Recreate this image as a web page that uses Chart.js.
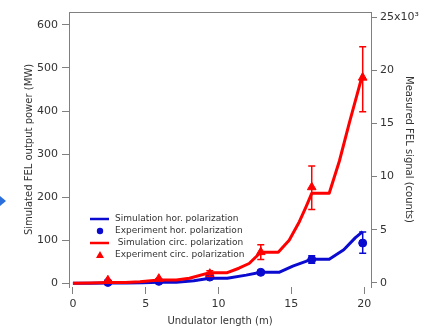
<!DOCTYPE html>
<html>
<head>
<meta charset="utf-8">
<script src="https://cdn.jsdelivr.net/npm/chart.js@4/dist/chart.umd.min.js"></script>
<style>
  html, body { margin: 0; padding: 0; background: #fff; }
  #wrap { position: relative; width: 428px; height: 327px; }
  #arrow { position: absolute; left: 0; top: 196px; width: 0; height: 0;
           border-top: 5px solid transparent; border-bottom: 5px solid transparent;
           border-left: 6px solid #2a6fdb; }
</style>
</head>
<body>
<div id="wrap">
  <canvas id="ctx" width="428" height="327"></canvas>
  <div id="arrow"></div>
</div>
<script>
// simulation curves (MW, left axis)
const simHorX = [0, 1.2, 2.4, 3.6, 4.8, 5.9, 7.1, 8.3, 9.4, 10.6, 11.9, 12.9, 14.15, 15.1, 16.0, 16.35, 17.6, 18.6, 19.4, 19.9];
const simHorY = [0, 0.3, 0.8, 0.8, 1.5, 2.5, 2.5, 6, 11.6, 11.6, 19, 25.5, 25.5, 40, 51, 56, 56, 78, 106, 120];
const simCircX = [0, 1.2, 2.4, 3.6, 4.6, 5.9, 7.1, 8.0, 9.4, 10.6, 11.4, 12.1, 12.9, 14.1, 14.85, 15.55, 16.0, 16.4, 17.6, 18.3, 19.0, 19.55, 19.9];
const simCircY = [0, 0.6, 1.8, 1.8, 3.8, 7.7, 7.7, 11.6, 24.7, 24.7, 35, 46, 72, 72, 100, 143, 177, 209, 209, 284, 375, 443, 486];

// measurements (counts, right axis)
const expX = [2.4, 5.9, 9.4, 12.9, 16.4, 19.9];
const expHorY = [50, 150, 550, 1000, 2200, 3750];
const expHorLo = [50, 150, 450, 850, 1850, 2800];
const expHorHi = [50, 150, 650, 1150, 2550, 4800];
const expCircY = [250, 400, 870, 2900, 9000, 19300];
const expCircLo = [250, 350, 600, 2200, 6900, 16100];
const expCircHi = [250, 450, 1150, 3600, 11000, 22200];

// ticks
const xTicks = [0, 5, 10, 15, 20];
const yTicks = [0, 100, 200, 300, 400, 500, 600];
const y2Ticks = [0, 5000, 10000, 15000, 20000, 25000];

const legendItems = [
  { text: "Simulation hor. polarization", color: "#0a0ad0", kind: "line" },
  { text: "Experiment hor. polarization", color: "#0a0ad0", kind: "circle" },
  { text: " Simulation circ. polarization", color: "#ff0000", kind: "line" },
  { text: "Experiment circ. polarization", color: "#ff0000", kind: "triangle" }
];

const BLUE = "#0a0ad0";
const RED = "#ff0000";
const AXIS = "#808080";
const TEXT = "#333333";

function toPts(xs, ys) {
  return xs.map((x, i) => ({ x: x, y: ys[i] }));
}

const errorBars = {
  id: "errorBars",
  afterDatasetsDraw(chart) {
    const c = chart.ctx;
    const ys = chart.scales.y2;
    const xs = chart.scales.x;
    const sets = [[expHorLo, expHorHi, BLUE], [expCircLo, expCircHi, RED]];
    c.save();
    c.lineWidth = 1.5;
    sets.forEach(s => {
      c.strokeStyle = s[2];
      expX.forEach((x, i) => {
        if (s[1][i] - s[0][i] < 200) return;
        const px = xs.getPixelForValue(x);
        const top = ys.getPixelForValue(s[1][i]);
        const bot = ys.getPixelForValue(s[0][i]);
        c.beginPath();
        c.moveTo(px, top); c.lineTo(px, bot);
        c.moveTo(px - 3.5, top); c.lineTo(px + 3.5, top);
        c.moveTo(px - 3.5, bot); c.lineTo(px + 3.5, bot);
        c.stroke();
      });
    });
    c.restore();
  }
};

const frameAndLegend = {
  id: "frameAndLegend",
  afterDraw(chart) {
    const c = chart.ctx;
    const a = chart.chartArea;
    c.save();
    // top frame line
    c.strokeStyle = AXIS;
    c.lineWidth = 1;
    c.beginPath();
    c.moveTo(a.left, a.top + 0.5);
    c.lineTo(a.right, a.top + 0.5);
    c.stroke();
    // legend
    c.font = "9px 'DejaVu Sans'";
    c.textBaseline = "middle";
    legendItems.forEach((it, i) => {
      const y = a.top + 207 + i * 12;
      const x = a.left + 21;
      c.fillStyle = it.color;
      c.strokeStyle = it.color;
      if (it.kind == "line") {
        c.lineWidth = 2.5;
        c.beginPath();
        c.moveTo(x, y); c.lineTo(x + 19, y);
        c.stroke();
      } else if (it.kind == "circle") {
        c.beginPath();
        c.arc(x + 10, y, 3.2, 0, Math.PI * 2);
        c.fill();
      } else {
        c.beginPath();
        c.moveTo(x + 10, y - 4); c.lineTo(x + 14, y + 3); c.lineTo(x + 6, y + 3);
        c.closePath();
        c.fill();
      }
      c.fillStyle = TEXT;
      c.fillText(it.text, x + 25, y);
    });
    c.restore();
  }
};

new Chart("ctx", {
  type: "line",
  data: {
    datasets: [
      { data: toPts(simHorX, simHorY), yAxisID: "y", borderColor: BLUE, borderWidth: 3,
        pointRadius: 0, tension: 0, borderJoinStyle: "round", order: 4 },
      { data: toPts(expX, expHorY), yAxisID: "y2", showLine: false, pointStyle: "circle",
        pointRadius: 4, backgroundColor: BLUE, borderColor: BLUE, order: 3 },
      { data: toPts(simCircX, simCircY), yAxisID: "y", borderColor: RED, borderWidth: 3,
        pointRadius: 0, tension: 0, borderJoinStyle: "round", order: 2 },
      { data: toPts(expX, expCircY), yAxisID: "y2", showLine: false, pointStyle: "triangle",
        pointRadius: 5, backgroundColor: RED, borderColor: RED, order: 1 }
    ]
  },
  options: {
    responsive: false,
    animation: false,
    clip: false,
    layout: { padding: { top: 12, left: 0, right: 0, bottom: 0 } },
    plugins: { legend: { display: false }, tooltip: { enabled: false } },
    scales: {
      x: {
        type: "linear", min: -0.27, max: 20.47,
        afterBuildTicks: axis => { axis.ticks = xTicks.map(v => ({ value: v })); },
        afterFit: axis => { axis.height = 40; },
        border: { display: false },
        grid: { drawOnChartArea: false, drawTicks: true, tickLength: 7, color: AXIS },
        ticks: { color: TEXT, font: { family: "DejaVu Sans", size: 11 }, padding: 4, maxRotation: 0 },
        title: { display: true, text: "Undulator length (m)", color: TEXT,
                 font: { family: "DejaVu Sans", size: 10 }, padding: { top: 0, bottom: 0 } }
      },
      y: {
        position: "left", min: -8.6, max: 630,
        afterBuildTicks: axis => { axis.ticks = yTicks.map(v => ({ value: v })); },
        afterFit: axis => { axis.width = 69; },
        border: { display: true, color: AXIS },
        grid: { drawOnChartArea: false, drawTicks: true, tickLength: 7, color: AXIS },
        ticks: { color: TEXT, font: { family: "DejaVu Sans", size: 11 }, padding: 4 },
        title: { display: true, text: "Simulated FEL output power (MW)", color: TEXT,
                 font: { family: "DejaVu Sans", size: 10 }, padding: { top: 23, bottom: 0 } }
      },
      y2: {
        position: "right", min: -380, max: 25470,
        afterBuildTicks: axis => { axis.ticks = y2Ticks.map(v => ({ value: v })); },
        afterFit: axis => { axis.width = 57; },
        border: { display: true, color: AXIS },
        grid: { drawOnChartArea: false, drawTicks: true, tickLength: 6, color: AXIS },
        ticks: { color: TEXT, font: { family: "DejaVu Sans", size: 11 }, padding: 3,
                 callback: v => v == 25000 ? "25x10\u00b3" : String(v / 1000) },
        title: { display: true, text: "Measured FEL signal (counts)", color: TEXT,
                 font: { family: "DejaVu Sans", size: 10 }, padding: { top: 13, bottom: 0 } }
      }
    }
  },
  plugins: [errorBars, frameAndLegend]
});
</script>
</body>
</html>
